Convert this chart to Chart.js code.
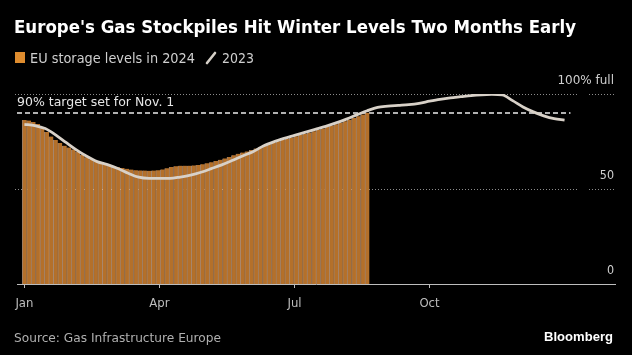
<!DOCTYPE html>
<html>
<head>
<meta charset="utf-8">
<script src="https://cdn.jsdelivr.net/npm/chart.js@4"></script>
<style>
  html, body { margin:0; padding:0; background:#000; }
  body { width:632px; height:355px; overflow:hidden; position:relative; font-family:"Liberation Sans", Arial, sans-serif; }
  #c { position:absolute; left:0; top:0; }
  .t { position:absolute; white-space:nowrap; display:inline-block; transform-origin:left center; line-height:1; }
</style>
</head>
<body>
<canvas id="c" width="632" height="355"></canvas>
<div id="title" class="t" style="left:14px; top:19px; font-weight:bold; font-size:17.5px; color:#fff; font-family:'DejaVu Sans', sans-serif;">Europe's Gas Stockpiles Hit Winter Levels Two Months Early</div>
<div style="position:absolute; left:15px; top:52px; width:10px; height:11px; background:#de8c2e;"></div>
<div id="leg1" class="t" style="left:30px; top:51px; font-size:14px; color:#cfcfcf; font-family:'DejaVu Sans', sans-serif;">EU storage levels in 2024</div>
<svg style="position:absolute; left:204px; top:50px;" width="14" height="16"><line x1="3" y1="13" x2="11" y2="3" stroke="#d6d0c8" stroke-width="2.6" stroke-linecap="round"/></svg>
<div id="leg2" class="t" style="left:222px; top:51px; font-size:14px; color:#cfcfcf; font-family:'DejaVu Sans', sans-serif;">2023</div>
<div id="src" class="t" style="left:14px; top:331px; font-size:13px; color:#b0b0b0; font-family:'DejaVu Sans', sans-serif;">Source: Gas Infrastructure Europe</div>
<div id="bb" class="t" style="left:544px; top:330px; font-size:13.5px; font-weight:bold; color:#fff; font-family:'Liberation Sans', sans-serif;">Bloomberg</div>
<script>
// ---- DATA ----
const start2024Day = 0;          // Jan 1, 2024
const step2024 = 3;              // days between readings
const storage2024 = [
  86.3, 86.0, 85.3, 84.2, 82.3, 80.0, 77.6, 75.8, 74.2, 72.8,
  71.8, 70.8, 69.6, 68.0, 66.7, 65.6, 64.8, 64.2, 63.6, 62.8,
  62.0, 61.4, 61.0, 60.6, 60.2, 59.9, 59.8, 59.7, 59.6, 59.7,
  59.9, 60.3, 60.9, 61.6, 62.0, 62.3, 62.3, 62.3, 62.4, 62.6,
  63.0, 63.5, 64.1, 64.8, 65.4, 66.1, 66.9, 67.7, 68.5, 69.2,
  69.8, 70.5, 71.3, 72.2, 73.0, 73.6, 74.4, 75.1, 75.8, 76.5,
  77.1, 77.7, 78.4, 79.1, 79.7, 80.4, 81.1, 81.8, 82.6, 83.4,
  84.1, 84.9, 85.7, 86.5, 87.4, 88.3, 89.2, 90.1
];
const step2023 = 7;              // days between readings
const storage2023 = [
  84.0, 83.4, 81.8, 78.5, 74.5, 70.6, 67.2, 64.4, 62.8, 60.8,
  58.3, 56.2, 55.6, 55.6, 55.6, 56.3, 57.3, 58.8, 60.7, 62.7,
  65.0, 67.4, 69.6, 72.6, 74.8, 76.6, 78.2, 79.8, 81.4, 83.0,
  84.8, 86.8, 89.0, 91.2, 93.0, 93.6, 94.0, 94.4, 95.1, 96.2,
  97.2, 98.0, 98.6, 99.2, 99.6, 99.8, 99.5, 96.5, 93.2, 90.6,
  88.5, 87.0, 86.3
];
const tickDays = [0, 91, 182, 273];
const tickLabels = ['Jan', 'Apr', 'Jul', 'Oct'];
const gridValues = [0, 50, 100];
const gridLabels = ['0', '50', '100% full'];
const targetValue = 90;
const targetLabel = '90% target set for Nov. 1';
const targetEndDay = 368;
const dayMin = -5, dayMax = 398;

// ---- fit html text ----
function fit(id, w, origin) {
  const el = document.getElementById(id);
  const nat = el.getBoundingClientRect().width;
  el.style.transformOrigin = (origin || 'left') + ' center';
  el.style.transform = 'scaleX(' + (w / nat) + ')';
}
fit('title', 562);
fit('leg1', 165);
fit('leg2', 32);
fit('src', 207);
fit('bb', 69);

const bars = storage2024.map((v, i) => ({ x: start2024Day + i * step2024, y: v }));
const line = storage2023.map((v, i) => ({ x: i * step2023, y: v }));

const overlay = {
  id: 'overlay',
  beforeDatasetsDraw(chart) {
    const { ctx, chartArea: a, scales: { x, y } } = chart;
    ctx.save();
    ctx.strokeStyle = '#8c8c8c';
    ctx.lineWidth = 1;
    ctx.setLineDash([1, 2]);
    gridValues.forEach(v => {
      if (v === 0) return;
      const py = Math.round(y.getPixelForValue(v)) + 0.5;
      ctx.beginPath();
      ctx.moveTo(a.left - 2, py); ctx.lineTo(a.right - 36, py);
      ctx.moveTo(a.right - 26, py); ctx.lineTo(a.right, py);
      ctx.stroke();
    });
    ctx.strokeStyle = '#ececec';
    ctx.lineWidth = 1.6;
    ctx.setLineDash([5, 3]);
    const ty = y.getPixelForValue(targetValue);
    ctx.beginPath();
    ctx.moveTo(a.left, ty); ctx.lineTo(x.getPixelForValue(targetEndDay), ty);
    ctx.stroke();
    ctx.restore();
  },
  afterDraw(chart) {
    const { ctx, chartArea: a, scales: { y } } = chart;
    ctx.save();
    ctx.textBaseline = 'middle';
    ctx.fillStyle = '#e6e6e6';
    ctx.font = '12.5px "DejaVu Sans", sans-serif';
    ctx.textAlign = 'left';
    ctx.fillText(targetLabel, a.left, y.getPixelForValue(targetValue) - 10.5, 160);
    ctx.fillStyle = '#cfcfcf';
    ctx.font = '12px "DejaVu Sans", sans-serif';
    ctx.textAlign = 'right';
    gridValues.forEach((v, i) => {
      const lbl = gridLabels[i];
      const w = ctx.measureText(lbl).width;
      const maxW = lbl.length > 3 ? 57 : w * 0.93;
      ctx.fillText(lbl, a.right - 1, y.getPixelForValue(v) - 13, maxW);
    });
    ctx.restore();
  }
};

new Chart(document.getElementById('c'), {
  data: {
    datasets: [
      {
        type: 'line', data: line, order: 0,
        borderColor: '#d8d1c8', borderWidth: 2.8, pointRadius: 0,
        cubicInterpolationMode: 'monotone', fill: false
      },
      {
        type: 'bar', data: bars, order: 1,
        backgroundColor: '#b4702a',
        borderColor: 'rgba(240,196,165,0.65)',
        borderWidth: { left: 1, right: 0, top: 0, bottom: 0 },
        borderSkipped: false,
        barPercentage: 1, categoryPercentage: 1
      }
    ]
  },
  options: {
    responsive: false,
    animation: false,
    devicePixelRatio: 1,
    layout: { padding: { left: 17, right: 17, top: 94, bottom: 41 } },
    plugins: { legend: { display: false }, tooltip: { enabled: false }, title: { display: false } },
    scales: {
      x: {
        type: 'linear', min: dayMin, max: dayMax, offset: false,
        afterBuildTicks: axis => { axis.ticks = tickDays.map(v => ({ value: v })); },
        afterFit: axis => { axis.height = 30; },
        ticks: {
          autoSkip: false, maxRotation: 0, padding: 8,
          color: '#bdbdbd', font: { family: '"DejaVu Sans Condensed", "DejaVu Sans", sans-serif', size: 13 },
          callback: (v) => { const i = tickDays.indexOf(v); return i >= 0 ? tickLabels[i] : ''; }
        },
        grid: { display: true, offset: false, drawOnChartArea: false, drawTicks: true, tickLength: 4, color: '#bdbdbd', tickColor: '#bdbdbd' },
        border: { display: true, color: '#bdbdbd', width: 1 }
      },
      y: {
        type: 'linear', min: 0, max: 100, display: false
      }
    }
  },
  plugins: [overlay]
});
</script>
</body>
</html>
